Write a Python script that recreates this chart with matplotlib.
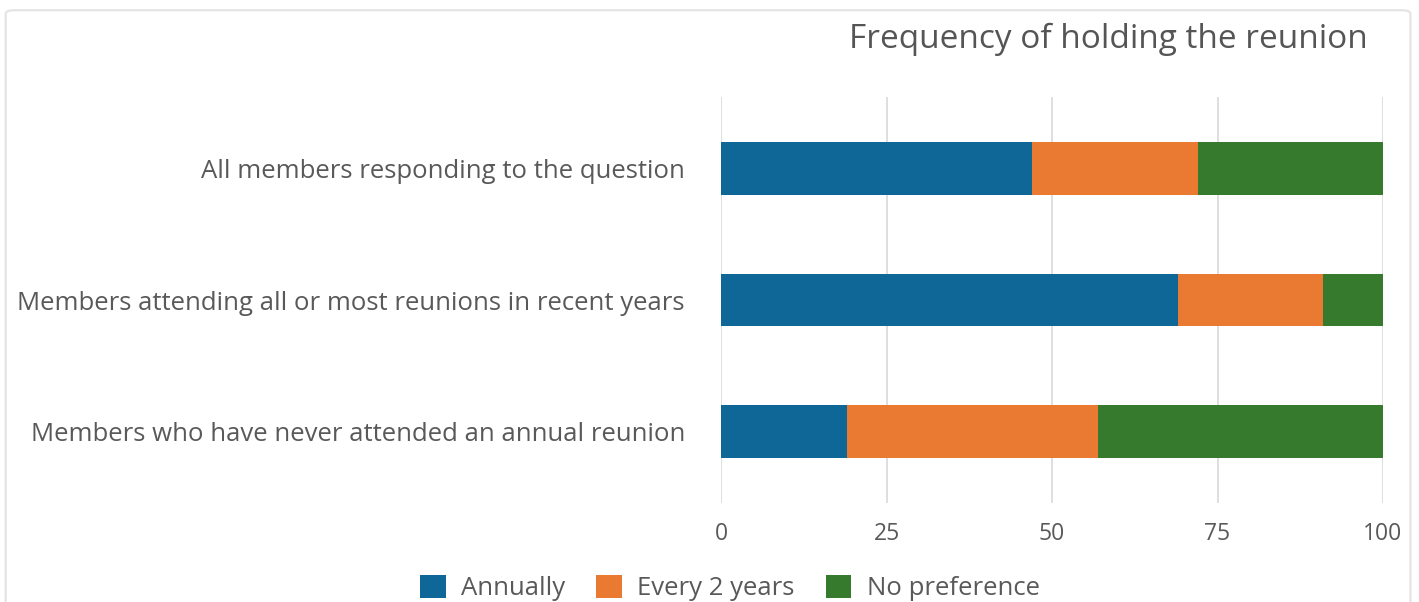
import matplotlib.pyplot as plt
from matplotlib.patches import FancyBboxPatch
import numpy as np

# Data (percent of respondents)
groups = [
    "All members responding to the question",
    "Members attending all or most reunions in recent years",
    "Members who have never attended an annual reunion",
]
annually = [47, 69, 19]
every_2_years = [25, 22, 38]
no_preference = [28, 9, 43]
series_names = ["Annually", "Every 2 years", "No preference"]
colors = ["#0f6798", "#ea7a31", "#367a2e"]
x_ticks = [0, 25, 50, 75, 100]

text_gray = "#595959"
grid_gray = "#d9d9d9"

plt.rcParams['font.family'] = ['Open Sans', 'DejaVu Sans']

fig = plt.figure(figsize=(14.19, 6.02), dpi=100)

# light frame around the chart
frame = FancyBboxPatch((0.004, -0.05), 0.99, 1.033, boxstyle="round,pad=0,rounding_size=0.006",
                       transform=fig.transFigure, facecolor="none", edgecolor="#e3e3e3",
                       linewidth=1.5, zorder=-1)
fig.patches.append(frame)

ax = fig.add_axes([721 / 1419, 1 - 503 / 602, (1383 - 721) / 1419, (503 - 97) / 602])
ax.set_facecolor("none")

y = np.arange(len(groups))
left = np.zeros(len(groups))
for vals, name, col in zip([annually, every_2_years, no_preference], series_names, colors):
    ax.barh(y, vals, left=left, height=0.4, color=col, label=name, zorder=3)
    left += np.array(vals)

ax.set_xlim(0, 100)
ax.set_ylim(2.54, -0.54)
ax.set_xticks(x_ticks)
ax.set_xticklabels([str(t) for t in x_ticks])
ax.set_yticks(y)
ax.set_yticklabels(groups)
ax.tick_params(axis='x', length=0, pad=14, labelsize=16.5, labelcolor=text_gray)
ax.tick_params(axis='y', length=0, pad=26, labelsize=18.5, labelcolor=text_gray)
ax.grid(axis='x', color=grid_gray, linewidth=1.2, zorder=0)
for s in ax.spines.values():
    s.set_visible(False)

fig.text(1368 / 1419, 1 - 39 / 602, "Frequency of holding the reunion", ha='right', va='center',
         fontsize=24, color="#555555")

handles, labels = ax.get_legend_handles_labels()
fig.legend(handles, labels, loc='center', bbox_to_anchor=(730 / 1419, 1 - 588 / 602), ncol=3,
           frameon=False, fontsize=18.5, labelcolor=text_gray, handlelength=1.0, handleheight=1.0,
           columnspacing=1.2, handletextpad=0.6)

fig.savefig("out.png", dpi=100)
